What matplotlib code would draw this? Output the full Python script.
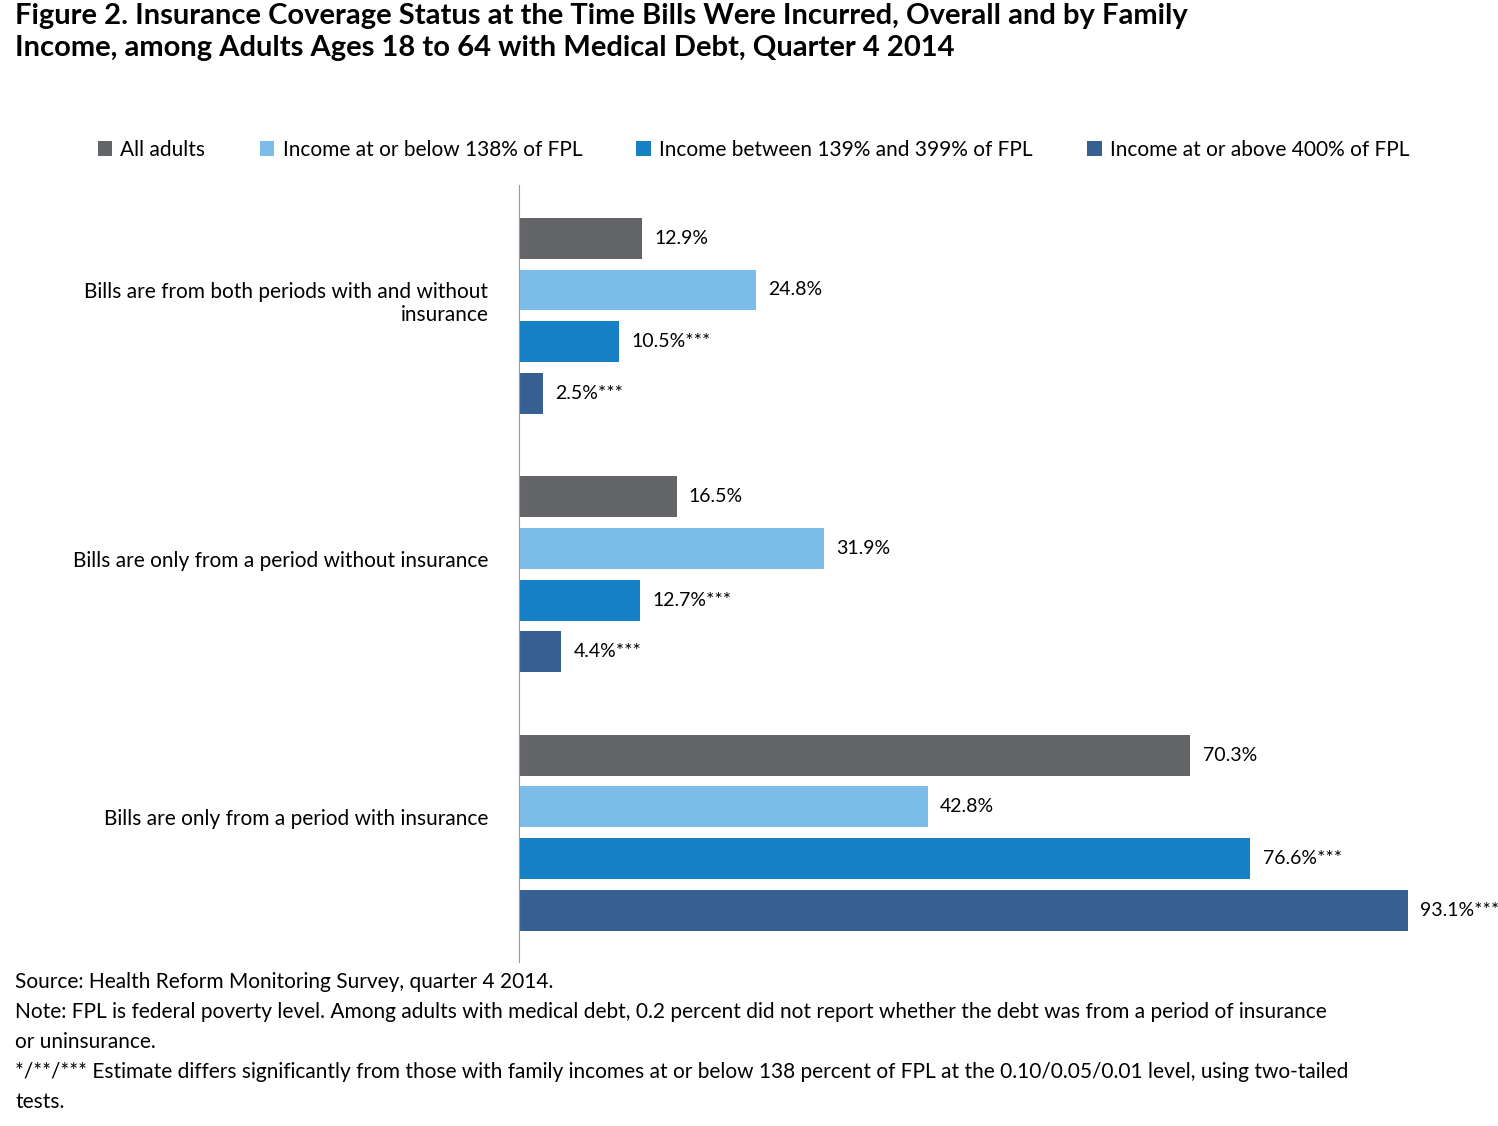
import numpy as np
import matplotlib
matplotlib.use('Agg')
import matplotlib.pyplot as plt

plt.rcParams['font.family'] = ['Lato', 'DejaVu Sans']

categories = ['Bills are from both periods with and without\ninsurance',
              'Bills are only from a period without insurance',
              'Bills are only from a period with insurance']
series = ['All adults', 'Income at or below 138% of FPL',
          'Income between 139% and 399% of FPL', 'Income at or above 400% of FPL']
values = [[12.9, 16.5, 70.3],
          [24.8, 31.9, 42.8],
          [10.5, 12.7, 76.6],
          [2.5, 4.4, 93.1]]
stars = [['', '', ''], ['', '', ''], ['***', '***', '***'], ['***', '***', '***']]
colors = ['#646569', '#7bbde8', '#1580c4', '#376092']

fig = plt.figure(figsize=(14.98, 11.26), dpi=100)
ax = fig.add_axes([519/1498, 1 - 962/1126, 971/1498, 777/1126])

for i in range(4):
  ys = [5*g + i for g in range(3)]
  ax.barh(ys, values[i], height=0.79, color=colors[i], label=series[i])
  for y, v, s in zip(ys, values[i], stars[i]):
    ax.text(v + 1.3, y, '%.1f%%%s' % (v, s), va='center', ha='left', fontsize=14)

ax.set_xlim(0, 101.7)
ax.set_ylim(14.0, -1.03)
ax.set_xticks([])
ax.set_yticks([5*g + 1.2 for g in range(3)])
ax.set_yticklabels(categories, fontsize=15, ha='right', multialignment='right')
ax.tick_params(axis='y', length=0, pad=22)
for sp in ['top', 'right', 'bottom']:
  ax.spines[sp].set_visible(False)
ax.spines['left'].set_color('#999999')

fig.legend(loc='center', bbox_to_anchor=(0.503, 1 - 150/1126), ncol=4, frameon=False,
           fontsize=15, handlelength=0.7, handleheight=0.7, handletextpad=0.4, columnspacing=2.6)

fig.text(15/1498, 1 - 32/1126, 'Figure 2. Insurance Coverage Status at the Time Bills Were Incurred, Overall and by Family\n'
         'Income, among Adults Ages 18 to 64 with Medical Debt, Quarter 4 2014',
         fontsize=21, fontweight='bold', va='center', ha='left', linespacing=1.3)

notes = ['Source: Health Reform Monitoring Survey, quarter 4 2014.',
         'Note: FPL is federal poverty level. Among adults with medical debt, 0.2 percent did not report whether the debt was from a period of insurance',
         'or uninsurance.',
         '*/**/*** Estimate differs significantly from those with family incomes at or below 138 percent of FPL at the 0.10/0.05/0.01 level, using two-tailed',
         'tests.']
for k, n in enumerate(notes):
  fig.text(15/1498, 1 - (982 + 30*k)/1126, n, fontsize=15, va='center', ha='left')

fig.savefig('out.png', dpi=100)
